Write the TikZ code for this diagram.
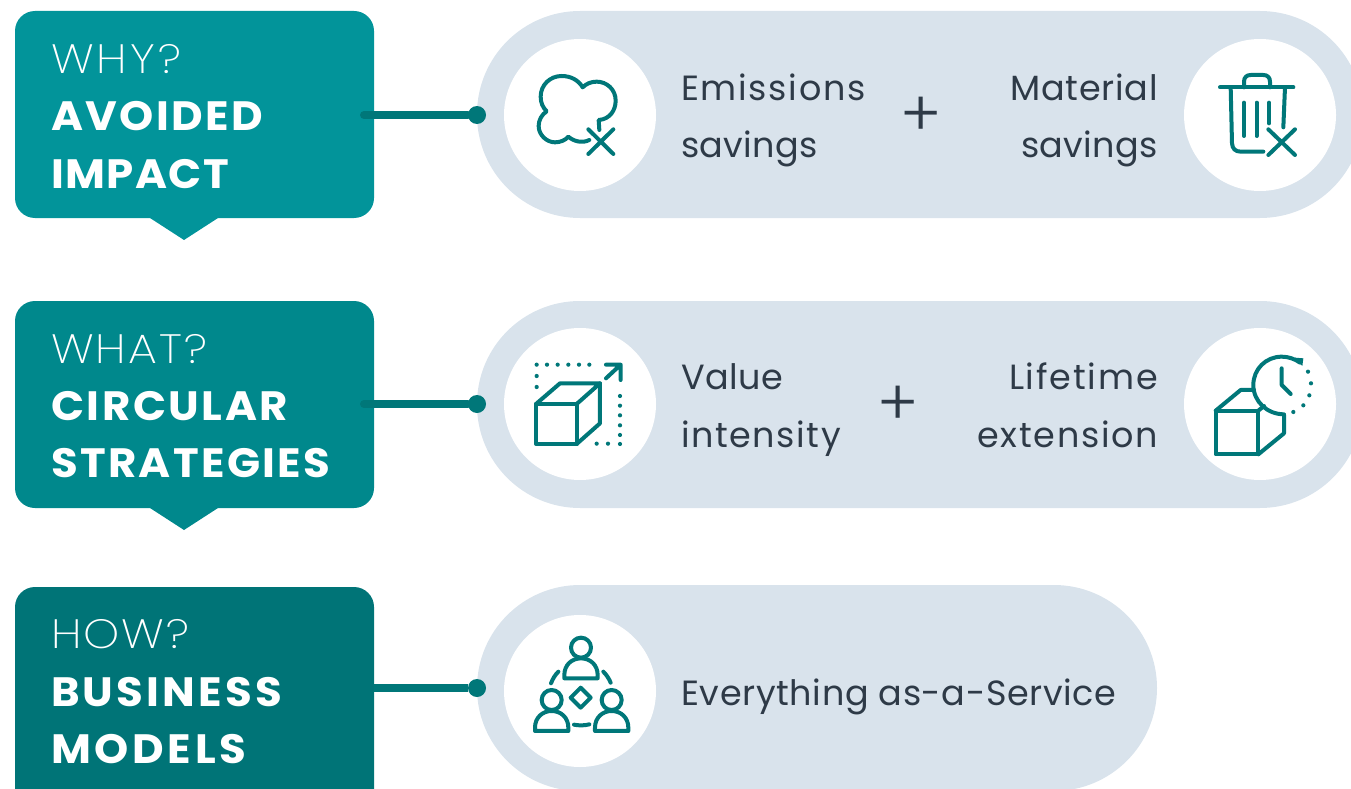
\documentclass[tikz,border=0pt]{standalone}
\usepackage{fontspec}
\newfontfamily\flight[LetterSpace=3,FakeStretch=1.12]{Poppins ExtraLight}
\newfontfamily\fbold[LetterSpace=5,FakeStretch=1.06]{Poppins Bold}
\newfontfamily\fbody{Poppins}
\newfontfamily\fplus{Poppins Light}
\newcommand{\ls}[1]{\addfontfeatures{LetterSpace=#1}}
\definecolor{tealA}{HTML}{02949A}
\definecolor{tealB}{HTML}{00888C}
\definecolor{tealC}{HTML}{007477}
\definecolor{line}{HTML}{007779}
\definecolor{pill}{HTML}{D9E3EC}
\definecolor{ink}{HTML}{2E3A47}
\tikzset{
  x=1pt,y=-1pt,
  card/.style={fill=#1,draw=none,rounded corners=20pt},
  tip/.style={fill=#1,draw=none},
  pillshape/.style={fill=pill,draw=none,rounded corners=103pt},
  disc/.style={circle,fill=white,draw=none,minimum size=152pt,inner sep=0pt},
  dot/.style={circle,fill=line,draw=none,minimum size=18pt,inner sep=0pt},
  link/.style={line,line width=8pt,line cap=round},
  head/.style={anchor=base west,inner sep=0pt,text=white,font=\flight\fontsize{41}{41}\selectfont},
  title/.style={anchor=base west,inner sep=0pt,text=white,font=\fbold\fontsize{41}{41}\selectfont},
  bodyl/.style={anchor=base west,inner sep=0pt,text=ink,font=\fbody\fontsize{35}{35}\selectfont},
  bodyr/.style={anchor=base east,inner sep=0pt,text=ink,font=\fbody\fontsize{35}{35}\selectfont},
  plus/.style={anchor=base,inner sep=0pt,text=ink,font=\fplus\fontsize{63}{63}\selectfont},
  icon/.style={line,line width=4pt,line cap=round,line join=round,fill=none},
  idot/.style={fill=line,draw=none},
}
\begin{document}
\begin{tikzpicture}
\useasboundingbox (0,0) rectangle (1351,789);
\clip (0,0) rectangle (1351,789);
% pills
\fill[pillshape] (477,11) rectangle (1363,218);
\fill[pillshape] (477,301) rectangle (1363,508);
\fill[pillshape] (477,585) rectangle (1157,791);
% cards
\fill[tip=tealA] (150,218) -- (218,218) -- (184,240) -- cycle;
\fill[tip=tealB] (150,508) -- (218,508) -- (184,530) -- cycle;
\fill[card=tealA] (15,11) rectangle (374,218);
\fill[card=tealB] (15,301) rectangle (374,508);
\fill[card=tealC] (15,587) rectangle (374,830);
% connectors
\coordinate (s1) at (364,115);
\coordinate (s2) at (364,404);
\coordinate (s3) at (374,688);
\node[dot] (d1) at (477,115) {};
\node[dot] (d2) at (477,404) {};
\node[dot] (d3) at (477,688) {};
\draw[link] (s1) -- (d1);
\draw[link] (s2) -- (d2);
\draw[link,line cap=butt] (s3) -- (d3);
% discs
\node[disc] (c1) at (580,115) {};
\node[disc] (c2) at (1260,115) {};
\node[disc] (c3) at (580,404) {};
\node[disc] (c4) at (1260,404) {};
\node[disc] (c5) at (580,691) {};
% card text
\node[head]  (t1) at (51,74) {\ls{7.3}WHY?};
\node[title] (t2) at (51,131) {\ls{6}AVOIDED};
\node[title] (t3) at (51,188) {\ls{3.4}IMPACT};
\node[head]  (t4) at (51,363) {\ls{5}WHAT?};
\node[title] (t5) at (51,420) {\ls{6.2}CIRCULAR};
\node[title] (t6) at (51,477) {\ls{5.7}STRATEGIES};
\node[head]  (t7) at (51,648) {\ls{4.8}HOW?};
\node[title] (t8) at (51,706) {\ls{7.7}BUSINESS};
\node[title] (t9) at (51,763) {\ls{9}MODELS};
% pill text
\node[bodyl] (b1) at (681,100.5) {\ls{4.8}Emissions};
\node[bodyl] (b2) at (681,157.5) {\ls{1}savings};
\node[bodyr] (b3) at (1158,100.5) {\ls{2}Material};
\node[bodyr] (b4) at (1158,157.5) {\ls{1}savings};
\node[bodyl] (b5) at (681,389) {\ls{1.3}Value};
\node[bodyl] (b6) at (681,447) {\ls{4.4}intensity};
\node[bodyr] (b7) at (1158,389) {\ls{5.2}Lifetime};
\node[bodyr] (b8) at (1158,447) {\ls{4.8}extension};
\node[bodyl] (b9) at (681,705) {\ls{1.8}Everything as-a-Service};
\node[plus] (p1) at (921,136) {+};
\node[plus] (p2) at (898,425) {+};
% cloud icon
\begin{scope}[shift={(500,30)},x=0.3333pt,y=-0.3333pt]
\draw[icon] (298,300) -- (296,270) .. controls (330,268) and (347,240) .. (347,212) .. controls (347,178) and (320,155) .. (290,155) .. controls (272,155) and (258,162) .. (248,172) .. controls (235,150) and (212,138) .. (185,138) .. controls (150,138) and (122,165) .. (122,200) .. controls (122,218) and (128,232) .. (140,244) .. controls (125,254) and (116,270) .. (116,288) .. controls (116,315) and (140,337) .. (165,337) .. controls (182,337) and (197,330) .. (205,320) .. controls (218,332) and (245,342) .. (268,330);
\draw[icon] (265,298) -- (340,372) (340,298) -- (265,372);
\end{scope}
% bin icon
\begin{scope}[shift={(1180,30)},x=0.3333pt,y=-0.3333pt]
\draw[icon] (120,172) -- (340,172);
\draw[icon] (192,172) -- (192,155) .. controls (192,142) and (200,135) .. (212,135) -- (250,135) .. controls (262,135) and (270,142) .. (270,155) -- (270,172);
\draw[icon] (152,172) -- (156,340) .. controls (157,356) and (166,365) .. (182,365) -- (250,365);
\draw[icon] (315,172) -- (310,292);
\draw[icon] (192,218) -- (192,318) (230,218) -- (230,318) (267,218) -- (267,280);
\draw[icon] (265,298) -- (345,375) (345,298) -- (265,375);
\end{scope}
% cube icon
\begin{scope}[shift={(500,320)},x=0.3333pt,y=-0.3333pt]
\draw[icon] (108,252) rectangle (230,372);
\draw[icon] (108,252) -- (180,190) -- (300,190) -- (230,252);
\draw[icon] (300,190) -- (300,310) -- (230,372);
\draw[icon] (318,134) -- (362,134) -- (362,180) (362,134) -- (318,175);
\foreach \px/\py in {110/134,141/134,173/134,205/134,237/134,268/134,110/168,110/201,360/228,360/257,360/286,360/316,360/345,360/372,290/371,324/371}
  \fill[idot] (\px,\py) circle (2.1pt);
\end{scope}
% clock cube icon
\begin{scope}[shift={(1180,320)},x=0.3333pt,y=-0.3333pt]
\draw[icon] (107,272) rectangle (235,403);
\draw[icon] (107,272) -- (182,210) -- (222,210);
\draw[icon] (235,272) -- (252,258);
\draw[icon] (235,403) -- (312,340) -- (312,285);
\draw[icon] (312,283) .. controls (262,283) and (220,245) .. (220,195) .. controls (220,147) and (258,110) .. (305,110) .. controls (325,110) and (345,117) .. (360,128);
\fill[idot] (345,113) -- (370,115) -- (367,138) -- cycle;
\draw[icon] (305,145) -- (305,195) -- (332,222);
\foreach \px/\py in {384/155,393/190,388/226,370/256,340/276}
  \fill[idot] (\px,\py) circle (2.1pt);
\end{scope}
% people icon
\begin{scope}[shift={(500,610)},x=0.3333pt,y=-0.3333pt]
\draw[icon] (243,113) circle (10pt);
\draw[icon] (193,205) -- (193,195) .. controls (193,165) and (215,145) .. (243,145) .. controls (271,145) and (293,165) .. (293,195) -- (293,205) -- cycle;
\draw[icon] (155,270) circle (10pt);
\draw[icon] (105,363) -- (105,353) .. controls (105,323) and (127,303) .. (155,303) .. controls (183,303) and (205,323) .. (205,353) -- (205,363) -- cycle;
\draw[icon] (335,270) circle (10pt);
\draw[icon] (285,363) -- (285,353) .. controls (285,323) and (307,303) .. (335,303) .. controls (363,303) and (385,323) .. (385,353) -- (385,363) -- cycle;
\draw[icon] (242,233) -- (272,263) -- (242,293) -- (212,263) -- cycle;
\draw[icon] (175,185) .. controls (165,195) and (158,207) .. (153,220);
\draw[icon] (310,185) .. controls (320,195) and (327,206) .. (332,218);
\draw[icon] (222,344) .. controls (237,347) and (253,347) .. (268,343);
\end{scope}
\end{tikzpicture}
\end{document}
